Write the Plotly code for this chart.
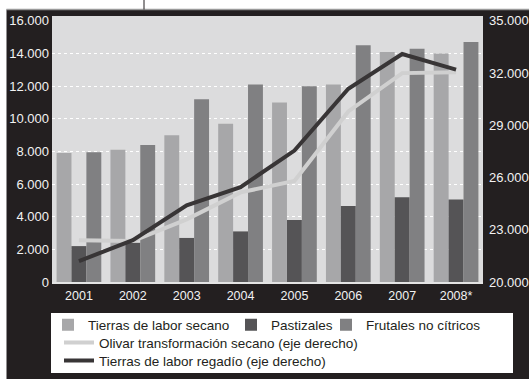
import plotly.graph_objects as go

# Superficie por cultivo (barras, eje izquierdo) y series de regadío/olivar (eje derecho)
years = ["2001", "2002", "2003", "2004", "2005", "2006", "2007", "2008*"]
secano = [7900, 8100, 9000, 9700, 11000, 12100, 14100, 14000]
pastizales = [2200, 2400, 2700, 3100, 3800, 4650, 5200, 5050]
frutales = [7950, 8400, 11200, 12100, 12000, 14500, 14300, 14700]
olivar = [22400, 22350, 23600, 25150, 25800, 29800, 32000, 32050]
regadio = [21200, 22400, 24400, 25450, 27550, 31100, 33100, 32200]

left_ticks = [0, 2000, 4000, 6000, 8000, 10000, 12000, 14000, 16000]
grid_ticks = [2000, 4000, 6000, 8000, 10000, 12000, 14000]
right_ticks = [20000, 23000, 26000, 29000, 32000, 35000]

W, H = 529, 379
L, R, T, B = 52, 46, 16, 97
PW, PH = W - L - R, H - T - B

def px(x):
    return (x - L) / PW

def py(y):
    return (H - B - y) / PH

y_top = 16300
y2_lo = 20000
y2_hi = y2_lo + 15000 * y_top / 16000

BG_DARK = "#231f20"
TXT = "#f2f2f2"
SANS = "Liberation Sans, Arial, Helvetica, sans-serif"

fig = go.Figure()
fig.add_trace(go.Bar(x=years, y=secano, name="Tierras de labor secano",
                     marker=dict(color="#a7a7a9", line=dict(width=0)), legend="legend"))
fig.add_trace(go.Bar(x=years, y=pastizales, name="Pastizales",
                     marker=dict(color="#555456", line=dict(width=0)), legend="legend2"))
fig.add_trace(go.Bar(x=years, y=frutales, name="Frutales no cítricos",
                     marker=dict(color="#808082", line=dict(width=0)), legend="legend3"))
fig.add_trace(go.Scatter(x=years, y=olivar, name="Olivar transformación secano (eje derecho)",
                         mode="lines", yaxis="y2", line=dict(color="#d0d0d0", width=4),
                         legend="legend4"))
fig.add_trace(go.Scatter(x=years, y=regadio, name="Tierras de labor regadío (eje derecho)",
                         mode="lines", yaxis="y2", line=dict(color="#383536", width=4),
                         legend="legend5"))
# empty trace carrying the dashed grid axis
fig.add_trace(go.Scatter(x=[], y=[], yaxis="y3", showlegend=False, hoverinfo="skip"))

leg_common = dict(bgcolor="rgba(0,0,0,0)", borderwidth=0, xanchor="left", yanchor="middle",
                  font=dict(family=SANS, size=13.5, color="#231f20"), orientation="h")

fig.update_layout(
    width=W, height=H,
    margin=dict(l=L, r=R, t=T, b=B, pad=0, autoexpand=False),
    paper_bgcolor=BG_DARK,
    plot_bgcolor="#dcdcdd",
    separators=",.",
    barmode="group",
    bargap=0.17,
    bargroupgap=0,
    showlegend=True,
    legend=dict(x=px(48), y=py(325), **leg_common),
    legend2=dict(x=px(231), y=py(325), **leg_common),
    legend3=dict(x=px(326), y=py(325), **leg_common),
    legend4=dict(x=px(59), y=py(342.7), **leg_common),
    legend5=dict(x=px(59), y=py(360.7), **leg_common),
    xaxis=dict(
        type="category", automargin=False,
        showgrid=False, zeroline=False,
        showline=True, linecolor="#e4e4e4", linewidth=1.5,
        ticks="", tickfont=dict(family=SANS, size=12.5, color=TXT),
        ticklabelstandoff=1,
    ),
    yaxis=dict(
        range=[0, y_top], tickmode="array", tickvals=left_ticks, tickformat=",d",
        automargin=False,
        showgrid=False, zeroline=False, showline=False, ticks="",
        tickfont=dict(family=SANS, size=13, color=TXT),
        ticklabelstandoff=2,
    ),
    yaxis2=dict(
        range=[y2_lo, y2_hi], overlaying="y", side="right",
        tickmode="array", tickvals=right_ticks, tickformat=",d",
        automargin=False,
        showgrid=False, zeroline=False, showline=False, ticks="",
        tickfont=dict(family=SANS, size=13, color=TXT),
        ticklabelstandoff=5,
    ),
    yaxis3=dict(
        range=[0, y_top], overlaying="y", side="left", automargin=False,
        tickmode="array", tickvals=grid_ticks, showticklabels=False,
        showgrid=True, gridcolor="#ffffff", gridwidth=1, griddash="3px,3px",
        zeroline=False, showline=False, ticks="",
    ),
    shapes=[
        # white margin strips along the top and left edges
        dict(type="rect", xref="paper", yref="paper", x0=px(-5), x1=px(W + 5),
             y0=py(9.5), y1=py(-5), fillcolor="#ffffff", line=dict(width=0), layer="below"),
        dict(type="rect", xref="paper", yref="paper", x0=px(-5), x1=px(6.5),
             y0=py(H + 5), y1=py(-5), fillcolor="#ffffff", line=dict(width=0), layer="below"),
        # grey rule at the top of the dark panel
        dict(type="line", xref="paper", yref="paper", x0=px(6.5), x1=px(W + 5),
             y0=py(9.5), y1=py(9.5), line=dict(color="#9a9a9a", width=1.5), layer="below"),
        # small vertical tick above the panel
        dict(type="line", xref="paper", yref="paper", x0=px(144), x1=px(144),
             y0=py(0), y1=py(9.5), line=dict(color="#231f20", width=1), layer="below"),
        # legend box
        dict(type="rect", xref="paper", yref="paper", x0=px(51), x1=px(513),
             y0=py(373), y1=py(313), fillcolor="#ffffff", line=dict(width=0), layer="below"),
    ],
)

fig.write_html("out.html")
